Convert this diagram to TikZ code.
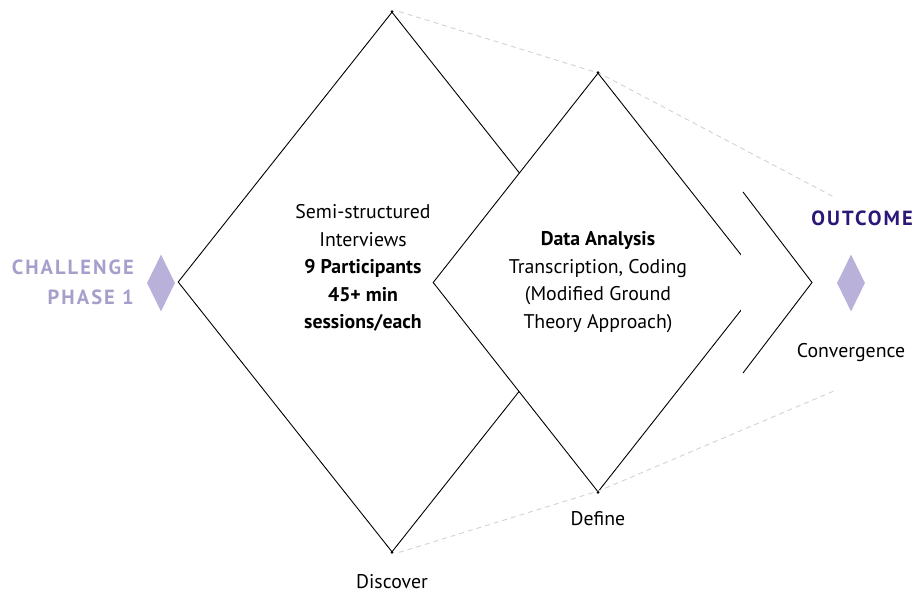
\documentclass[tikz,border=0pt]{standalone}
\usepackage{fontspec}
\setmainfont{PT Sans}
\usetikzlibrary{shapes.geometric}
\definecolor{lilac}{HTML}{B9B1D9}
\definecolor{lilactext}{HTML}{A79FCB}
\definecolor{indigo}{HTML}{2C1677}
\definecolor{dashgray}{HTML}{D2D2D2}
\tikzset{
  bigdiamond/.style={diamond,draw=black,line width=0.9pt,inner sep=0pt},
  markerdiamond/.style={diamond,fill=lilac,inner sep=0pt,minimum width=28pt,minimum height=57pt},
  guide/.style={draw=dashgray,line width=0.9pt,dash pattern=on 5pt off 4pt},
  bodytext/.style={align=center,font=\fontsize{19.8}{27.5}\selectfont,inner sep=0pt},
  labeltext/.style={font=\fontsize{19.8}{22}\selectfont,inner sep=0pt},
  headtext/.style={font=\fontsize{20.5}{30}\selectfont\bfseries\addfontfeature{LetterSpace=10},inner sep=0pt},
  vdot/.style={circle,fill=black,inner sep=0pt,minimum size=3pt}
}
\begin{document}
\begin{tikzpicture}[x=1pt,y=-1pt]
\useasboundingbox (0,0) rectangle (918,593);
% first diamond
\node[bigdiamond,minimum width=428pt,minimum height=540pt] (d1) at (392,282) {};
% second diamond, white filled over the first
\node[bigdiamond,fill=white,minimum width=330pt,minimum height=419pt] (d2) at (598,282.5) {};
% chevron covering tip of second diamond
\coordinate (ct) at (743,192);
\coordinate (cp) at (812,282.5);
\coordinate (cb) at (743,373);
\fill[white] (741,192) -- (cp) -- (741,373) -- cycle;
\draw[line width=0.9pt] (ct) -- (cp) -- (cb);
% guide lines
\coordinate (gt) at (834,197);
\coordinate (gb) at (834,391);
\draw[guide] ([xshift=7pt]d1.north) -- ([xshift=2pt,yshift=-1pt]d2.north) -- (gt);
\draw[guide] ([xshift=7pt]d1.south) -- ([xshift=2pt,yshift=2pt]d2.south) -- (gb);
% vertex dots
\node[vdot] (v1) at (d1.north) {};
\node[vdot] (v2) at (d1.south) {};
\node[vdot] (v3) at (d2.north) {};
\node[vdot] (v4) at (d2.south) {};
% texts
\node[bodytext] (t1) at (363,268) {Semi-structured\\Interviews\\\textbf{9 Participants}\\\textbf{45+ min}\\\textbf{sessions/each}};
\node[bodytext] (t2) at (598,282) {\textbf{Data Analysis}\\Transcription, Coding\\(Modified Ground\\Theory Approach)};
\node[labeltext,anchor=base] (disc) at (392,588) {Discover};
\node[labeltext] (defi) at (598,519) {Define};
\node[labeltext] (conv) at (851,353) {Convergence};
% markers
\node[markerdiamond] (m1) at (161,283) {};
\node[markerdiamond] (m2) at (851,283) {};
\node[headtext,text=lilactext,anchor=east,align=right] (ch) at (134,282) {CHALLENGE\\PHASE 1};
\node[headtext,text=indigo,anchor=east] (oc) at (913,218) {OUTCOME};
\end{tikzpicture}
\end{document}
